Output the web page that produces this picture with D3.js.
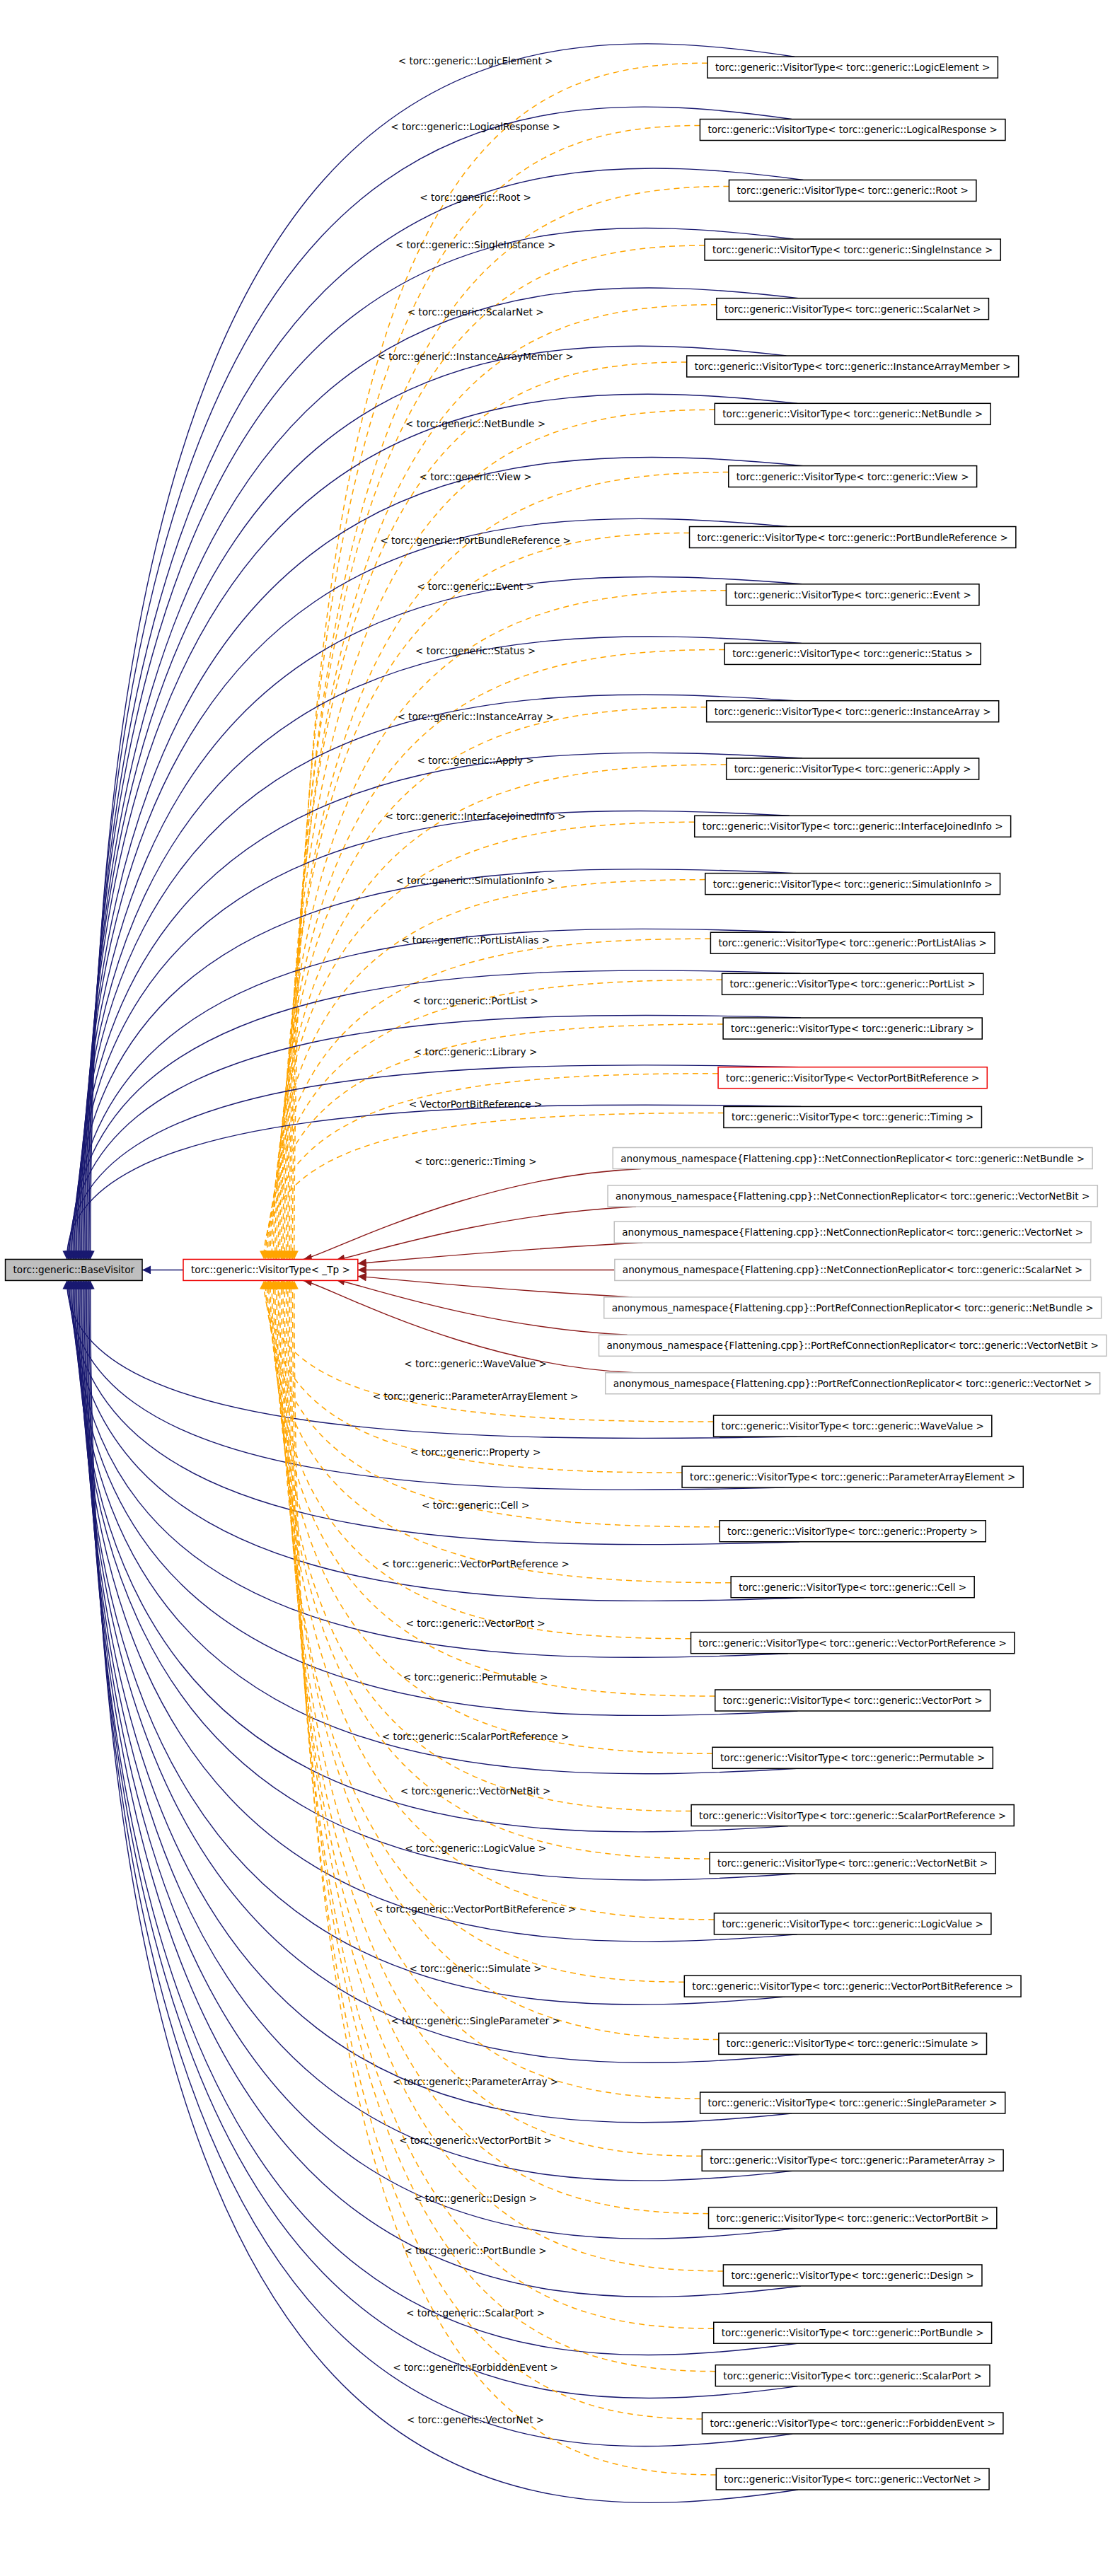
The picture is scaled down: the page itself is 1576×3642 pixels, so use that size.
<!DOCTYPE html>
<html><head><meta charset="utf-8">
<script src="https://cdn.jsdelivr.net/npm/d3@7"></script>
<style>body{margin:0;background:#fff}</style>
</head><body><svg id="c" width="1576" height="3642"></svg>
<script>
// Template arguments of torc::generic::VisitorType< X > (top to bottom)
const upperTypes = ["LogicElement","LogicalResponse","Root","SingleInstance","ScalarNet","InstanceArrayMember","NetBundle","View","PortBundleReference","Event","Status","InstanceArray","Apply","InterfaceJoinedInfo","SimulationInfo","PortListAlias","PortList","Library","*VectorPortBitReference","Timing"];
const upperRow = [41,79,116,152,188,223,252,290,327,362,398,433,468,503,538,574,599,626,656,680];
const upperLabelRow = [37,77,120,149,190,217,258,290,329,357,396,436,463,497,536,572,609,640,672,707];
const lowerTypes = ["WaveValue","ParameterArrayElement","Property","Cell","VectorPortReference","VectorPort","Permutable","ScalarPortReference","VectorNetBit","LogicValue","VectorPortBitReference","Simulate","SingleParameter","ParameterArray","VectorPortBit","Design","PortBundle","ScalarPort","ForbiddenEvent","VectorNet"];
const lowerRow = [868,899,932,966,1000,1035,1070,1105,1134,1171,1209,1244,1280,1315,1350,1385,1420,1446,1475,1509];
const lowerLabelRow = [830,850,884,916,952,988,1021,1057,1090,1125,1162,1198,1230,1267,1303,1338,1370,1408,1441,1473];
const replicators = ["NetConnectionReplicator< torc::generic::NetBundle >","NetConnectionReplicator< torc::generic::VectorNetBit >","NetConnectionReplicator< torc::generic::VectorNet >","NetConnectionReplicator< torc::generic::ScalarNet >","PortRefConnectionReplicator< torc::generic::NetBundle >","PortRefConnectionReplicator< torc::generic::VectorNetBit >","PortRefConnectionReplicator< torc::generic::VectorNet >"];
const replicatorRow = [705,728,750,773,796,819,842];
const baseRow = 773;

const svg = d3.select("#c");
const Y = d3.scaleLinear().domain([0,1568]).range([0,3642]);
const X = d3.scaleLinear().domain([0,680]).range([0,1576]);
const FONT = "DejaVu Sans, sans-serif", FS = 13.6, BH = 30;
const NAVY="#191970", ORANGE="#FFA500", RED="#8B1A1A";

const defs = svg.append("defs");
[["nv",NAVY],["or",ORANGE],["rd",RED]].forEach(([id,c])=>{
  defs.append("marker").attr("id",id).attr("viewBox","0 0 10 10").attr("refX",10).attr("refY",5)
   .attr("markerWidth",16).attr("markerHeight",12).attr("markerUnits","userSpaceOnUse").attr("orient","auto")
   .append("path").attr("d","M0,0L10,5L0,10Z").attr("fill",c);
});
const gE = svg.append("g"), gL = svg.append("g"), gN = svg.append("g");

const meas = svg.append("text").attr("font-family",FONT).attr("font-size",FS);
function tw(t){meas.text(t);return meas.node().getComputedTextLength();}

function box(text,cx,cy,opts){
  const w = tw(text)+22, x = cx - w/2;
  gN.append("rect").attr("x",x).attr("y",cy-BH/2).attr("width",w).attr("height",BH)
    .attr("fill",opts.fill||"#fff").attr("stroke",opts.stroke||"#000").attr("stroke-width",1.5);
  gN.append("text").attr("x",cx).attr("y",cy+5).attr("text-anchor","middle")
    .attr("font-family",FONT).attr("font-size",FS).text(text);
  return {x,w,cy,top:cy-BH/2,bot:cy+BH/2};
}

const base = box("torc::generic::BaseVisitor", X(45), Y(baseRow), {fill:"#bfbfbf"});
const tp = box("torc::generic::VisitorType< _Tp >", X(165), Y(baseRow), {stroke:"#e00"});
gE.append("path").attr("d",`M${tp.x},${tp.cy}L${base.x+base.w},${base.cy}`).attr("stroke",NAVY).attr("stroke-width",1.4).attr("fill","none").attr("marker-end","url(#nv)");

const CX = X(520);
function vt(t){return t.startsWith("*") ? "torc::generic::VisitorType< "+t.slice(1)+" >" : "torc::generic::VisitorType< torc::generic::"+t+" >";}
function lab(t){return t.startsWith("*") ? "< "+t.slice(1)+" >" : "< torc::generic::"+t+" >";}

function visitorNode(t,row,lrow,i,n,above){
  const b = box(vt(t), CX, Y(row), {stroke: t.startsWith("*")?"#e00":"#000"});
  const bx = X(40) + (above ? (n-i)/n : (i+1)/n)*35;
  const by = above ? base.top : base.bot;
  const tx = b.x + b.w*0.3, ty = above ? b.top : b.bot;
  const d = by - ty;
  gE.append("path").attr("d",`M${tx},${ty}C${tx-(tx-bx)*0.45},${ty-d*0.04} ${bx},${ty-d*0.02} ${bx},${by}`)
    .attr("stroke",NAVY).attr("stroke-width",1.4).attr("fill","none").attr("marker-end","url(#nv)");
  const ox = X(160) + (above ? (n-i)/n : (i+1)/n)*45;
  const oy = above ? tp.top : tp.bot;
  const ex = b.x, ey = b.cy - 6;
  const dd = oy - ey;
  gE.append("path").attr("d",`M${ex},${ey}C${ex-(ex-ox)*0.55},${ey} ${ox},${ey+dd*0.1} ${ox},${oy}`)
    .attr("stroke",ORANGE).attr("stroke-width",1.5).attr("stroke-dasharray","8,6").attr("fill","none").attr("marker-end","url(#or)");
  gL.append("text").attr("x",X(290)).attr("y",Y(lrow)+5).attr("text-anchor","middle")
    .attr("font-family",FONT).attr("font-size",FS).text(lab(t));
}
upperTypes.forEach((t,i)=>visitorNode(t,upperRow[i],upperLabelRow[i],i,upperTypes.length,true));
lowerTypes.forEach((t,i)=>visitorNode(t,lowerRow[i],lowerLabelRow[i],i,lowerTypes.length,false));

const ends = [[X(185),tp.top],[X(205),tp.top+1],[tp.x+tp.w,tp.cy-9],[tp.x+tp.w,tp.cy],[tp.x+tp.w,tp.cy+9],[X(205),tp.bot-1],[X(185),tp.bot]];
replicators.forEach((t,i)=>{
  const b = box("anonymous_namespace{Flattening.cpp}::"+t, CX, Y(replicatorRow[i]), {stroke:"#bfbfbf"});
  const [ex,ey] = ends[i];
  const sx = b.x + (i===3?0:40), sy = i<3 ? b.bot : (i===3 ? b.cy : b.top);
  gE.append("path").attr("d",`M${sx},${sy}C${sx-(sx-ex)*0.5},${sy+(i<3?10:i>3?-10:0)} ${ex+(ex-tp.x-tp.w>=0?60:30)},${ey+(i<3?-5:i>3?5:0)} ${ex},${ey}`)
    .attr("stroke",RED).attr("stroke-width",1.4).attr("fill","none").attr("marker-end","url(#rd)");
});
meas.remove();
</script></body></html>
